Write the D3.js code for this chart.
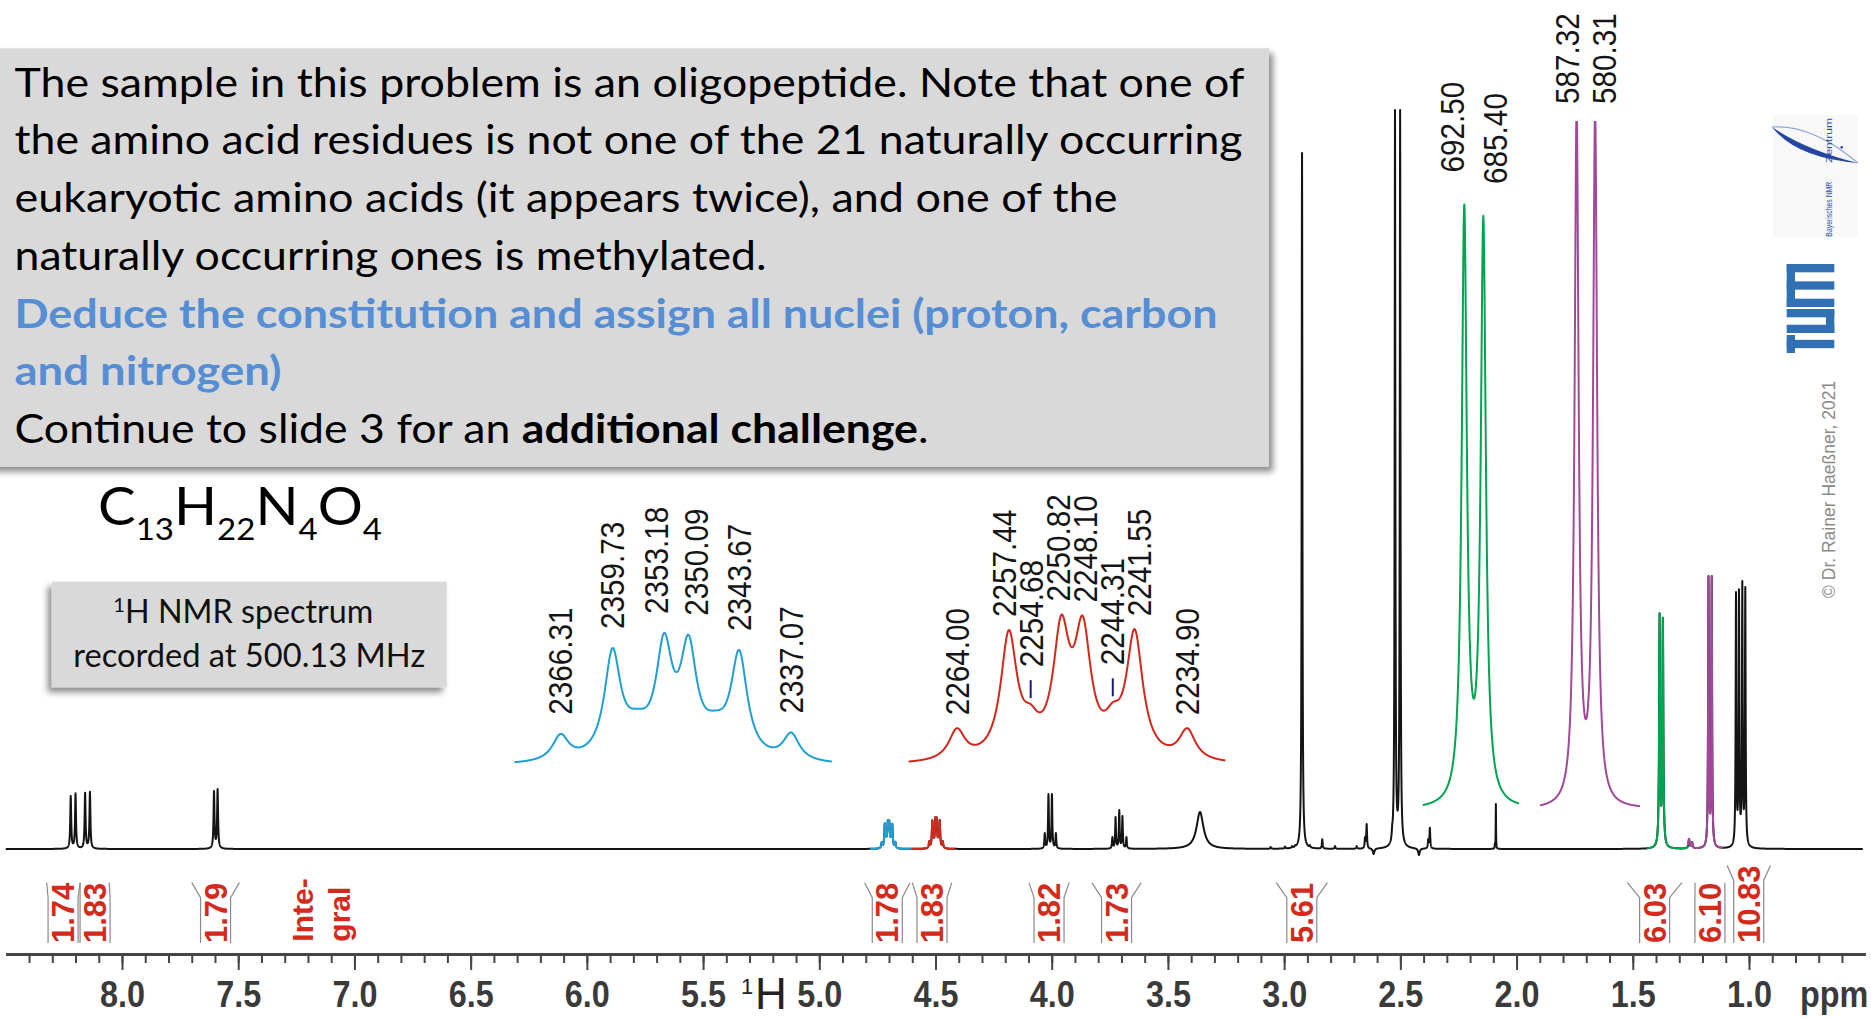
<!DOCTYPE html>
<html><head><meta charset="utf-8">
<script src="https://cdn.jsdelivr.net/npm/d3@7"></script>
<style>
body{margin:0;background:#fff;}
svg{display:block;}
text{white-space:pre;}
</style>
</head><body>
<svg id="chart" width="1871" height="1020"></svg>
<script>
// ================= DATA =================
const MHZ = 500.13;                       // spectrometer frequency
// labelled multiplets (Hz) and their observed heights (intensity units)
const blueHz  = [2366.31, 2359.73, 2353.18, 2350.09, 2343.67, 2337.07];
const blueInt = [7.0, 25.7, 29.0, 28.6, 25.3, 7.3];
const blueHiddenHz  = [2356.6, 2346.7];   // plateaus between labelled lines
const blueHiddenInt = [12.5, 12.1];
const redHz  = [2264.00, 2257.44, 2254.68, 2250.82, 2248.10, 2244.31, 2241.55, 2234.90];
const redInt = [7.9, 28.7, 13.0, 31.9, 31.7, 13.4, 28.9, 7.9];
const redMarkedHz = [2254.68, 2244.31];
const greenHz  = [692.50, 685.40];
const greenInt = [235.7, 231.3];
const purpleHz  = [587.32, 580.31];
const purpleInt = [273, 273];
// other lines of the spectrum (ppm), heights and line widths (Hz)
const otherPpm = [8.2207, 8.2000, 8.1588, 8.1380, 7.6042, 7.5887,
  4.030, 4.014, 3.999, 3.982,
  3.739, 3.7253, 3.7094, 3.6957, 3.6785,
  3.362,
  3.058, 2.996, 2.966, 2.953,
  2.923, 2.889, 2.836, 2.781, 2.688, 2.652, 2.645, 2.615,
  2.535, 2.523, 2.501, 2.42, 2.380, 2.373,
  2.093, 2.089,
  1.258, 1.245,
  1.0559, 1.0430, 1.0288, 1.0159];
const otherInt = [53, 55.7, 56.3, 57.3, 58, 60,
  16, 55, 55, 16,
  12, 32, 39, 33, 12,
  37,
  2, 2.5, 3, 4,
  696, 4, 9.7, 3, 3, 12, 25, -5,
  25, 739, 739, -6, 10, 21.3,
  6, 45,
  10, 7,
  257, 259.7, 268, 262];
const otherWidthHz = [1.2, 1.2, 1.2, 1.2, 1.2, 1.2,
  1.0, 1.0, 1.0, 1.0,
  1.0, 1.0, 1.0, 1.0, 1.0,
  9,
  1, 1, 1, 1,
  0.9, 1, 1, 1, 1, 1, 1, 2,
  1, 0.9, 0.9, 2, 1, 1,
  0.5, 0.4,
  1.5, 1.5,
  0.9, 0.9, 0.9, 0.9];
// integrals
const integralValues = ["1.74", "1.83", "1.79", "1.78", "1.83", "1.82", "1.73", "5.61", "6.03", "6.10", "10.83"];
const integralFrom   = [8.324, 8.18, 7.70, 4.805, 4.60, 4.098, 3.827, 3.034, 1.523, 1.232, 1.094];
const integralTo     = [8.18, 8.055, 7.495, 4.61, 4.43, 3.925, 3.615, 2.814, 1.289, 1.104, 0.908];
// coloured parts of the main trace (ppm ranges)
const segmentNames = ["blue", "red", "green", "purple"];
const segmentFrom  = [4.782, 4.602, 1.44, 1.262];
const segmentTo    = [4.602, 4.416, 1.262, 1.112];
// axis
const majorTicks = [8.0, 7.5, 7.0, 6.5, 6.0, 5.5, 5.0, 4.5, 4.0, 3.5, 3.0, 2.5, 2.0, 1.5, 1.0];
const tickLabels = ["8.0", "7.5", "7.0", "6.5", "6.0", "5.5", "5.0", "4.5", "4.0", "3.5", "3.0", "2.5", "2.0", "1.5", "1.0"];
// texts
const textLines = [
  [["The sample in this problem is an oligopeptide. Note that one of", 0]],
  [["the amino acid residues is not one of the 21 naturally occurring", 0]],
  [["eukaryotic amino acids (it appears twice), and one of the", 0]],
  [["naturally occurring ones is methylated.", 0]],
  [["Deduce the constitution and assign all nuclei (proton, carbon", 1]],
  [["and nitrogen)", 1]],
  [["Continue to slide 3 for an ", 0], ["additional challenge", 2], [".", 0]]
];

// ================= STYLE / LAYOUT =================
const COL = {black: "#141414", blue: "#1ea0d6", red: "#d2281c", green: "#00a550", purple: "#a2489a",
             navy: "#1c1c7a", integ: "#d42a1c", bracket: "#8a8a8a", axis: "#454545", tick: "#3a3a3a",
             box: "#d9d9d9", boxBlue: "#558ed5", tum: "#3070b3"};
const lineWidths = [1230, 1228, 1103, 752, 1203, 267, 914];
const svg = d3.select("#chart");
const defs = svg.append("defs");
const f1 = defs.append("filter").attr("id", "sh1").attr("x", "-5%").attr("y", "-5%").attr("width", "115%").attr("height", "120%");
f1.append("feDropShadow").attr("dx", 4).attr("dy", 5).attr("stdDeviation", 3).attr("flood-color", "#000").attr("flood-opacity", 0.45);
const f2 = defs.append("filter").attr("id", "sh2").attr("x", "-10%").attr("y", "-10%").attr("width", "120%").attr("height", "130%");
f2.append("feDropShadow").attr("dx", -4).attr("dy", 5).attr("stdDeviation", 3).attr("flood-color", "#000").attr("flood-opacity", 0.45);
defs.append("clipPath").attr("id", "clipPurple").append("rect").attr("x", 1500).attr("y", 121).attr("width", 200).attr("height", 800);

svg.append("rect").attr("width", 1871).attr("height", 1020).attr("fill", "#fff");

// ================= MODEL (Lorentzian lines through observed heights) =================
const peaks = [];
const addHz = (hz, ints, gHz) => hz.forEach((h, i) => peaks.push({p: h / MHZ, h: ints[i], g: gHz / MHZ}));
addHz(blueHz, blueInt, 1.25);
addHz(blueHiddenHz, blueHiddenInt, 2.0);
addHz(redHz, redInt, 1.25);
addHz(greenHz, greenInt, 1.15);
addHz(purpleHz, purpleInt, 0.93);
otherPpm.forEach((p, i) => peaks.push({p: p, h: otherInt[i], g: otherWidthHz[i] / MHZ}));

function solve(pk) {
  const n = pk.length;
  const M = pk.map(pi => pk.map(pj => 1 / (1 + ((pi.p - pj.p) / pj.g) ** 2)));
  const b = pk.map(p => p.h);
  for (let c = 0; c < n; c++) {
    let piv = c;
    for (let r = c + 1; r < n; r++) if (Math.abs(M[r][c]) > Math.abs(M[piv][c])) piv = r;
    [M[c], M[piv]] = [M[piv], M[c]]; [b[c], b[piv]] = [b[piv], b[c]];
    for (let r = c + 1; r < n; r++) {
      const f = M[r][c] / M[c][c];
      if (!f) continue;
      for (let k = c; k < n; k++) M[r][k] -= f * M[c][k];
      b[r] -= f * b[c];
    }
  }
  const a = new Array(n).fill(0);
  for (let r = n - 1; r >= 0; r--) {
    let s = b[r];
    for (let k = r + 1; k < n; k++) s -= M[r][k] * a[k];
    a[r] = s / M[r][r];
  }
  return a;
}
const amps = solve(peaks);
function I(ppm) {
  let s = 0;
  for (let j = 0; j < peaks.length; j++) { const d = (ppm - peaks[j].p) / peaks[j].g; s += amps[j] / (1 + d * d); }
  return s;
}

// ================= MAIN SPECTRUM =================
const xMain = d3.scaleLinear().domain([8.5, 0.5]).range([5.8, 1865.2]);
const yMain = d3.scaleLinear().domain([0, 700]).range([849, 149]);
const grid = d3.range(8.5, 0.51, -0.0005).concat(peaks.map(p => p.p)).sort((a, b) => b - a);
const mainPts = grid.map(p => [p, I(p)]);
const mainLine = d3.line().x(d => xMain(d[0])).y(d => yMain(d[1]));
svg.append("path").datum(mainPts).attr("d", mainLine).attr("fill", "none")
  .attr("stroke", COL.black).attr("stroke-width", 2).attr("stroke-linejoin", "round");
segmentNames.forEach((nm, i) => {
  const pts = mainPts.filter(d => d[0] <= segmentFrom[i] && d[0] >= segmentTo[i]);
  svg.append("path").datum(pts).attr("d", mainLine).attr("fill", "none")
    .attr("stroke", COL[nm]).attr("stroke-width", 2).attr("stroke-linejoin", "round");
});

// ================= INSETS =================
function relax(xs, minSep) {
  const a = xs.slice();
  for (let it = 0; it < 300; it++) {
    let moved = false;
    for (let i = 0; i < a.length - 1; i++) {
      const d = a[i + 1] - a[i];
      if (d < minSep - 0.01) { const o = (minSep - d) / 2; a[i] -= o; a[i + 1] += o; moved = true; }
    }
    if (!moved) break;
  }
  return a;
}
const insetCfg = [
  {color: COL.blue, hz: [2372.15, 2331.9], xr: [514.5, 832], y0: 766, intRef: 29.0, yRef: 633, labels: blueHz, minSep: 40, gap: 19, marked: []},
  {color: COL.red, hz: [2270.1, 2230.06], xr: [908.6, 1225.6], y0: 765.5, intRef: 31.9, yRef: 615, labels: redHz, minSep: 27, gap: 13, marked: redMarkedHz},
  {color: COL.green, hz: [708, 672.1], xr: [1422.7, 1519], y0: 810, intRef: 235.7, yRef: 204.6, labels: greenHz, minSep: 43, gap: 32, marked: []},
  {color: COL.purple, hz: [601.2, 563.3], xr: [1540, 1640], y0: 810.5, intRef: 273, yRef: 109.5, labels: purpleHz, minSep: 37, gap: 17, marked: [], clipTop: 121}
];
insetCfg.forEach(cfg => {
  const x = d3.scaleLinear().domain(cfg.hz).range(cfg.xr);
  const y = d3.scaleLinear().domain([0, cfg.intRef]).range([cfg.y0, cfg.yRef]);
  const hzGrid = d3.range(cfg.hz[0], cfg.hz[1], -0.02).concat(cfg.labels).sort((a, b) => b - a);
  const pts = hzGrid.map(h => [h, I(h / MHZ)]);
  const p = svg.append("path").datum(pts)
    .attr("d", d3.line().x(d => x(d[0])).y(d => y(d[1])))
    .attr("fill", "none").attr("stroke", cfg.color).attr("stroke-width", 2).attr("stroke-linejoin", "round");
  if (cfg.clipTop) p.attr("clip-path", "url(#clipPurple)");
  const curveY = px => Math.max(y(I(x.invert(px) / MHZ)), cfg.clipTop || -1e9);
  const lx = relax(cfg.labels.map(h => x(h)), cfg.minSep);
  cfg.labels.forEach((h, i) => {
    let bottom;
    if (cfg.marked.indexOf(h) >= 0) {
      const cy = curveY(x(h));
      svg.append("line").attr("x1", x(h)).attr("x2", x(h)).attr("y1", cy - 24).attr("y2", cy - 6)
        .attr("stroke", COL.navy).attr("stroke-width", 2);
      bottom = cy - 37;
    } else {
      let m = 1e9;
      const a0 = Math.min(lx[i], x(h)) - 11, a1 = Math.max(lx[i], x(h)) + 11;
      for (let px = a0; px <= a1; px += 0.5) m = Math.min(m, curveY(px));
      bottom = m - cfg.gap;
    }
    svg.append("text").attr("transform", `translate(${lx[i]},${bottom}) rotate(-90) scale(0.9,1)`)
      .attr("dy", "0.36em").attr("font-family", "Liberation Sans, Arial, sans-serif")
      .attr("font-size", 33).attr("fill", "#151515").text(h.toFixed(2));
  });
});

// ================= INTEGRALS =================
const intBottom = 943;
const intCenters = relax(integralFrom.map((f, i) => (xMain(f) + xMain(integralTo[i])) / 2), 32);
integralValues.forEach((v, i) => {
  const cx = intCenters[i];
  const t = svg.append("text").attr("transform", `translate(${cx},${intBottom}) rotate(-90)`)
    .attr("dy", "0.36em").attr("font-family", "Liberation Sans, Arial, sans-serif")
    .attr("font-weight", "bold").attr("font-size", 31).attr("fill", COL.integ).text(v);
  const len = t.node().getComputedTextLength();
  const top = intBottom - len;
  const x1 = xMain(integralFrom[i]), x2 = xMain(integralTo[i]);
  const bl = cx - 15, br = cx + 15;
  svg.append("path")
    .attr("d", `M${x1},${top}L${bl},${top + 15}L${bl},${intBottom}M${x2},${top}L${br},${top + 15}L${br},${intBottom}`)
    .attr("fill", "none").attr("stroke", COL.bracket).attr("stroke-width", 1.2);
});
svg.append("text").attr("transform", "translate(313,941.7) rotate(-90)")
  .attr("font-family", "Liberation Sans, Arial, sans-serif").attr("font-weight", "bold")
  .attr("font-size", 30).attr("fill", COL.integ).text("Inte-");
svg.append("text").attr("transform", "translate(350,941.7) rotate(-90)")
  .attr("font-family", "Liberation Sans, Arial, sans-serif").attr("font-weight", "bold")
  .attr("font-size", 30).attr("fill", COL.integ).text("gral");

// ================= AXIS =================
const axisY = 954;
const minorTicks = d3.range(84, 5, -1).map(d => d / 10);
const gMinor = svg.append("g").attr("transform", `translate(0,${axisY})`)
  .call(d3.axisBottom(xMain).tickValues(minorTicks).tickSize(9).tickSizeOuter(0).tickFormat(""));
const gMajor = svg.append("g").attr("transform", `translate(0,${axisY})`)
  .call(d3.axisBottom(xMain).tickValues(majorTicks).tickSize(16).tickSizeOuter(0)
    .tickFormat((d, i) => tickLabels[i]));
[gMinor, gMajor].forEach(g => {
  g.select(".domain").attr("stroke", COL.axis).attr("stroke-width", 3);
  g.selectAll(".tick line").attr("stroke", COL.axis).attr("stroke-width", 2);
});
gMajor.selectAll(".tick text").attr("y", 52.7).attr("dy", 0)
  .attr("transform", "scale(0.875,1)")
  .attr("font-family", "Liberation Sans, Arial, sans-serif").attr("font-weight", "bold")
  .attr("font-size", 37).attr("fill", COL.tick);
svg.append("text").attr("transform", "translate(1800,1006.7) scale(0.875,1)")
  .attr("font-family", "Liberation Sans, Arial, sans-serif").attr("font-weight", "bold")
  .attr("font-size", 37).attr("fill", COL.tick).text("ppm");
svg.append("text").attr("x", 741).attr("y", 994).attr("font-family", "Liberation Sans, Arial, sans-serif")
  .attr("font-size", 22).attr("fill", "#222").text("1");
svg.append("text").attr("x", 755).attr("y", 1009).attr("font-family", "Liberation Sans, Arial, sans-serif")
  .attr("font-size", 44).attr("fill", "#222").text("H");

// ================= TEXT BOXES =================
svg.append("rect").attr("x", -10).attr("y", 48.3).attr("width", 1279).attr("height", 418.4)
  .attr("fill", COL.box).attr("filter", "url(#sh1)");
const styles = [{w: "normal", c: "#000"}, {w: "bold", c: COL.boxBlue}, {w: "bold", c: "#000"}];
textLines.forEach((ln, i) => {
  const t = svg.append("text").attr("x", 14.5).attr("y", 96.7 + i * 57.7)
    .attr("font-family", "Lato, 'Open Sans', sans-serif").attr("font-size", 40)
    .attr("textLength", lineWidths[i]).attr("lengthAdjust", "spacingAndGlyphs");
  ln.forEach(([s, k]) => t.append("tspan").attr("font-weight", styles[k].w).attr("fill", styles[k].c).text(s));
});

// formula
const ft = svg.append("text").attr("x", 98).attr("y", 525).attr("font-family", "Lato, 'Open Sans', sans-serif")
  .attr("fill", "#000").attr("textLength", 284).attr("lengthAdjust", "spacingAndGlyphs");
[["C", 0], ["13", 1], ["H", 0], ["22", 1], ["N", 0], ["4", 1], ["O", 0], ["4", 1]].forEach(([s, sub], i, arr) => {
  const prevSub = i > 0 ? arr[i - 1][1] : 0;
  ft.append("tspan").attr("font-size", sub ? 31 : 53).attr("dy", (sub ? 15 : 0) - (prevSub ? 15 : 0)).text(s);
});

// NMR box
svg.append("rect").attr("x", 51.7).attr("y", 581.7).attr("width", 395).attr("height", 105.6)
  .attr("fill", COL.box).attr("filter", "url(#sh2)");
const nt1 = svg.append("text").attr("x", 243.3).attr("y", 623.3).attr("text-anchor", "middle")
  .attr("font-family", "Lato, 'Open Sans', sans-serif").attr("font-size", 32).attr("fill", "#111")
  .attr("textLength", 260).attr("lengthAdjust", "spacingAndGlyphs");
nt1.append("tspan").attr("font-size", 20).attr("dy", -11).text("1");
nt1.append("tspan").attr("dy", 11).text("H NMR spectrum");
svg.append("text").attr("x", 249.2).attr("y", 666.7).attr("text-anchor", "middle")
  .attr("font-family", "Lato, 'Open Sans', sans-serif").attr("font-size", 32).attr("fill", "#111")
  .attr("textLength", 352).attr("lengthAdjust", "spacingAndGlyphs").text("recorded at 500.13 MHz");

// ================= LOGOS / COPYRIGHT =================
svg.append("rect").attr("x", 1773).attr("y", 115).attr("width", 85).attr("height", 122).attr("fill", "#f8f8f8");
svg.append("path").attr("d", "M1772,127 Q1812,124 1858,163").attr("fill", "none").attr("stroke", "#8fa8dc").attr("stroke-width", 1.2);
svg.append("path").attr("d", "M1772,127 Q1796,158 1858,163 Q1806,150 1772,127 Z").attr("fill", "#2446a0");
svg.append("circle").attr("cx", 1841.7).attr("cy", 147.3).attr("r", 1.3).attr("fill", "#2446a0");
svg.append("text").attr("transform", "translate(1828.3,236.7) rotate(-90)").attr("dy", "0.35em")
  .attr("font-family", "Liberation Sans Narrow, Liberation Sans, sans-serif").attr("font-size", 9.5).attr("fill", "#3050a8")
  .attr("textLength", 55).attr("lengthAdjust", "spacingAndGlyphs").text("Bayerisches NMR");
svg.append("text").attr("transform", "translate(1828.3,163) rotate(-90)").attr("dy", "0.35em")
  .attr("font-family", "Liberation Sans Narrow, Liberation Sans, sans-serif").attr("font-size", 9.5).attr("fill", "#3050a8")
  .attr("textLength", 45).attr("lengthAdjust", "spacingAndGlyphs").text("Zentrum");
const tum = svg.append("g").attr("transform", "translate(1786.7,353) rotate(-90)").attr("fill", COL.tum);
[[0, 0, 18, 8.3], [4.85, 0, 8.3, 47.6],
 [20, 0, 8.3, 47.6], [35.7, 0, 8.3, 47.6], [20, 39.3, 24, 8.3],
 [46, 0, 43, 8.3], [46, 0, 8.3, 47.6], [63.35, 0, 8.3, 47.6], [80.7, 0, 8.3, 47.6]]
  .forEach(r => tum.append("rect").attr("x", r[0]).attr("y", r[1]).attr("width", r[2]).attr("height", r[3]));
svg.append("text").attr("transform", "translate(1829,598) rotate(-90)").attr("dy", "0.35em")
  .attr("font-family", "Liberation Sans, Arial, sans-serif").attr("font-size", 17.5).attr("fill", "#8a8a8a")
  .text("© Dr. Rainer Haeßner, 2021");
</script>
</body></html>
